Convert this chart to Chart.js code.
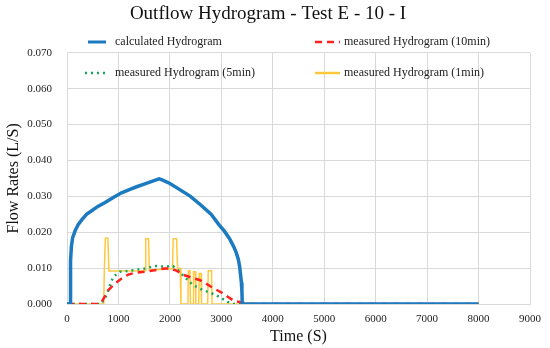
<!DOCTYPE html>
<html>
<head>
<meta charset="utf-8">
<title>Outflow Hydrogram - Test E - 10 - I</title>
<script src="https://cdn.jsdelivr.net/npm/chart.js@4.4.0/dist/chart.umd.min.js"></script>
<style>
    body { margin: 0; background: #fff; }
    #box { width: 550px; height: 348px; position: relative; }
</style>
</head>
<body>
<div id="box"><canvas id="myChart"></canvas></div>
<script>
// Dados (tempo em s, vazao em L/s)

var nomesSeries = ['calculated Hydrogram', 'measured Hydrogram (10min)', 'measured Hydrogram (5min)', 'measured Hydrogram (1min)'];

var calcTempo = [0, 62, 66, 72, 85, 110, 160, 220, 290, 380, 480, 600, 740, 900, 1060, 1200, 1340, 1500, 1650, 1790, 1850, 2000, 2200, 2400, 2600, 2800, 2960, 3060, 3160, 3240, 3290, 3330, 3355, 3375, 3390, 3400, 3405, 3410, 8000];
var calcVazao = [0, 0, 0.0075, 0.012, 0.016, 0.0185, 0.0205, 0.0222, 0.0235, 0.025, 0.026, 0.0272, 0.0283, 0.0297, 0.031, 0.0318, 0.0326, 0.0334, 0.0342, 0.0349, 0.0346, 0.0336, 0.0318, 0.03, 0.0276, 0.025, 0.022, 0.0203, 0.0182, 0.016, 0.0143, 0.0125, 0.0105, 0.008, 0.006, 0.0035, 0.001, 0, 0];

var med10Tempo = [0, 630, 690, 805, 933, 1062, 1190, 1320, 1513, 1706, 1900, 2000, 2126, 2286, 2430, 2576, 2700, 2802, 3026, 3252, 3382, 3450, 8000];
var med10Vazao = [0, 0, 0.001, 0.0039, 0.0057, 0.0071, 0.0082, 0.0087, 0.009, 0.0094, 0.0099, 0.0099, 0.0093, 0.008, 0.0073, 0.0067, 0.0057, 0.0048, 0.003, 0.0008, 0.0005, 0, 0];

var med5Tempo = [0, 660, 690, 773, 837, 900, 1030, 1190, 1513, 1706, 1900, 2060, 2126, 2253, 2447, 2640, 2898, 3122, 3250, 8000];
var med5Vazao = [0, 0, 0.0006, 0.0025, 0.0053, 0.0076, 0.009, 0.0092, 0.0099, 0.0106, 0.0104, 0.0106, 0.0099, 0.008, 0.0053, 0.0039, 0.0025, 0.0006, 0, 0];

var med1Tempo = [0, 715, 725, 745, 795, 815, 1520, 1530, 1585, 1600, 2050, 2065, 2130, 2150, 2200, 2215, 2350, 2360, 2390, 2400, 2450, 2460, 2495, 2505, 2560, 2570, 2605, 2615, 2735, 2745, 2810, 2820, 8000];
var med1Vazao = [0, 0, 0.0092, 0.0183, 0.0183, 0.0092, 0.0093, 0.0182, 0.0182, 0.0095, 0.0098, 0.0182, 0.0182, 0.0099, 0.0099, 0, 0, 0.0093, 0.0093, 0, 0, 0.009, 0.009, 0, 0, 0.0085, 0.0085, 0, 0, 0.0093, 0.0093, 0, 0];

// eixos
var xMin = 0, xMax = 9000, xPasso = 1000;
var yMin = 0, yMax = 0.07, yPasso = 0.01;

var fonte = '"Liberation Serif", "DejaVu Serif", serif';

// junta tempo e vazao em pontos {x, y}
function montarPontos(tempos, vazoes) {
    let pontos = [];
    for (let i = 0; i < tempos.length; i++) {
        pontos.push({ x: tempos[i], y: vazoes[i] });
    }
    return pontos;
}

// Legenda dentro do grafico (2 linhas x 2 colunas)
var posLegenda = [
    [88, 106, 115, 42],
    [315, 340, 344, 42],
    [85, 106, 115, 73],
    [315, 340, 344, 73]
];

const legendaInterna = {
    id: 'legendaInterna',
    afterDraw(chart) {
        const c = chart.ctx;
        c.save();
        c.font = '12px ' + fonte;
        c.textBaseline = 'middle';
        chart.data.datasets.forEach((ds, i) => {
            let p = posLegenda[i];
            c.beginPath();
            c.strokeStyle = ds.borderColor;
            c.lineWidth = ds.legendWidth;
            c.setLineDash(ds.borderDash || []);
            c.moveTo(p[0], p[3]);
            c.lineTo(p[1], p[3]);
            c.stroke();
            c.setLineDash([]);
            c.fillStyle = '#222';
            c.fillText(ds.label, p[2], p[3]);
        });
        c.restore();
    }
};

const ctx = document.getElementById('myChart');
new Chart(ctx, {
    type: 'line',
    data: {
        datasets: [{
            label: nomesSeries[0],
            data: montarPontos(calcTempo, calcVazao),
            borderColor: 'rgb(28, 122, 192)',
            borderWidth: 3.5,
            legendWidth: 3,
            pointRadius: 0
        }, {
            label: nomesSeries[1],
            data: montarPontos(med10Tempo, med10Vazao),
            borderColor: 'rgb(255, 32, 32)',
            borderWidth: 2.5,
            legendWidth: 2.5,
            borderDash: [7, 5],
            pointRadius: 0
        }, {
            label: nomesSeries[2],
            data: montarPontos(med5Tempo, med5Vazao),
            borderColor: 'rgb(22, 168, 88)',
            borderWidth: 2.5,
            legendWidth: 2.5,
            borderDash: [2, 4],
            pointRadius: 0
        }, {
            label: nomesSeries[3],
            data: montarPontos(med1Tempo, med1Vazao),
            borderColor: 'rgb(255, 200, 60)',
            borderWidth: 1.5,
            legendWidth: 2.5,
            pointRadius: 0
        }]
    },
    options: {
        responsive: true,
        maintainAspectRatio: false,
        animation: false,
        layout: { padding: { left: 0, right: 14, top: 0, bottom: 0 } },
        plugins: {
            legend: { display: false },
            tooltip: { enabled: false },
            title: {
                display: true,
                text: 'Outflow Hydrogram - Test E - 10 - I',
                color: '#111',
                font: { family: fonte, size: 19, weight: 'normal' },
                padding: { top: 3, bottom: 27 }
            }
        },
        scales: {
            x: {
                type: 'linear',
                min: xMin,
                max: xMax,
                grid: { color: '#d9d9d9', drawTicks: false },
                border: { color: '#d9d9d9' },
                afterFit: function (escala) { escala.height = 44; },
                ticks: {
                    stepSize: xPasso,
                    padding: 9,
                    color: '#222',
                    font: { family: fonte, size: 11 },
                    callback: function (v) { return String(v); }
                },
                title: {
                    display: true,
                    text: 'Time (S)',
                    color: '#111',
                    font: { family: fonte, size: 16 },
                    padding: { top: 0, bottom: 2 }
                }
            },
            y: {
                min: yMin,
                max: yMax,
                grid: { color: '#d9d9d9', drawTicks: false },
                border: { color: '#d9d9d9' },
                afterFit: function (escala) { escala.width = 67; },
                ticks: {
                    stepSize: yPasso,
                    padding: 15,
                    color: '#222',
                    font: { family: fonte, size: 11 },
                    callback: function (v) { return v.toFixed(3); }
                },
                title: {
                    display: true,
                    text: 'Flow Rates (L/S)',
                    color: '#111',
                    font: { family: fonte, size: 16 },
                    padding: { top: 4, bottom: 4 }
                }
            }
        }
    },
    plugins: [legendaInterna]
});
</script>
</body>
</html>
